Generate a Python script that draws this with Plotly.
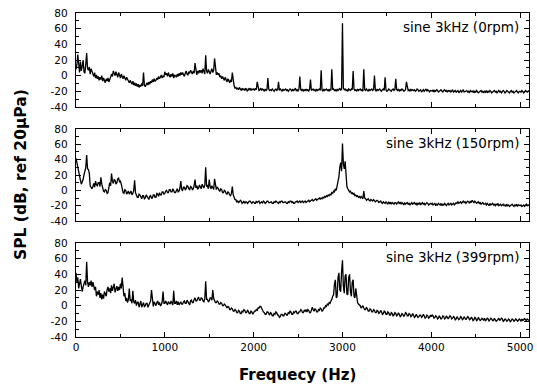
import plotly.graph_objects as go

# ---------------- data ----------------
FREQ_STEP_HZ = 10  # spacing of the hand-read spectral samples

# SPL (dB re 20 uPa), one value every 10 Hz from 0 Hz; each row covers 200 Hz
spl_0rpm = [
    8, 14, 27, 10, 4, 18, 6, 12, 20, 5, 3, 15, 29, 9, 7, 11, 2, 9, 6, 1,                         # 0
    -1, 4, -3, 1, -4, -1, -6, -2, -5, 0, -7, -3, -6, -9, -4, -7, -3, -8, -5, -2,                 # 200
    2, -1, 6, 3, 0, 5, 2, -2, 4, 1, -3, 2, -1, -4, 0, -3, -6, -2, -5, -8,                        # 400
    -9, -6, -8, -11, -7, -12, -9, -13, -10, -14, -11, -15, -12, -14, -10, -13, 4, -12, -14, -11, # 600
    -9, -12, -8, -11, -7, -9, -5, -8, -4, -7, -6, -3, -5, -1, -4, -2, 1, -3, 0, -2,              # 800
    5, 1, 3, -1, 4, 0, -2, 2, -1, 3, -3, 1, 0, -2, 2, -1, 3, 0, 4, 1,                            # 1000
    4, 0, -1, 3, 6, 2, 1, 5, 3, 7, 4, 2, 6, 3, 16, 5, 1, 6, 3, 7,                                # 1200
    4, 7, 3, 9, 5, 2, 26, 6, 3, 8, 5, 2, 6, 9, 4, 7, 22, 5, 1, 4,                                # 1400
    1, 3, -2, 0, -4, -1, -3, -6, -2, -5, -8, -4, -6, -9, -5, -8, 4, -7, -13, -16,                # 1600
    -15, -17, -16, -18, -15, -17, -19, -16, -18, -17, -19, -16, -18, -20, -17, -18, -16, -19, -17, -18,  # 1800
    -17, -19, -16, -18, -8, -17, -19, -18, -16, -19, -17, -18, -20, -17, -19, -18, -3, -17, -19, -18,    # 2000
    -19, -17, -18, -20, -18, -17, -19, -18, -8, -19, -17, -18, -20, -17, -19, -18, -17, -19, -18, -20,   # 2200
    -19, -17, -18, -20, -17, -19, -18, -16, -19, -18, -20, -17, -1, -18, -19, -17, -20, -18, -19, -17,   # 2400
    -19, -18, -20, -17, -5, -19, -18, -17, -19, -18, -20, -17, -19, -18, -17, -19, 7, -18, -20, -17,     # 2600
    -19, -18, -17, -19, -18, -20, -17, -19, 8, -18, -17, -19, -18, -20, -17, -19, -18, -16, -19, -17,    # 2800
    67, -16, -18, -17, -19, -18, -20, -17, -18, -19, -17, -18, 6, -17, -19, -18, -20, -17, -19, -18,     # 3000
    -17, -19, -18, -20, 8, -18, -19, -17, -18, -20, -17, -19, -18, -17, -19, -18, 0, -18, -20, -17,      # 3200
    -19, -18, -17, -19, -20, -18, -17, -19, -2, -18, -20, -19, -17, -18, -19, -20, -18, -17, -19, -18,   # 3400
    -4, -18, -19, -17, -20, -18, -19, -17, -18, -20, -19, -18, -8, -17, -19, -18, -20, -17, -19, -18,    # 3600
    -19, -18, -20, -19, -17, -18, -20, -19, -18, -21, -19, -18, -20, -19, -17, -20, -18, -19, -21, -19,  # 3800
    -19, -20, -18, -21, -19, -20, -18, -19, -21, -20, -19, -18, -20, -21, -19, -18, -20, -19, -21, -19,  # 4000
    -20, -19, -21, -20, -18, -21, -20, -19, -21, -20, -19, -22, -20, -19, -21, -20, -18, -21, -20, -19,  # 4200
    -19, -21, -20, -22, -19, -20, -21, -19, -22, -20, -21, -19, -20, -22, -21, -20, -19, -21, -20, -22,  # 4400
    -20, -21, -19, -22, -20, -21, -19, -20, -22, -21, -20, -19, -21, -20, -22, -20, -19, -21, -20, -22,  # 4600
    -21, -19, -20, -22, -21, -19, -20, -21, -22, -20, -19, -21, -20, -22, -21, -20, -19, -21, -22, -20,  # 4800
    -20, -21, -19, -20, -22, -21, -19, -20, -21, -20, -19,                                                # 5000
]

spl_150rpm = [
    42, 35, 30, 24, 20, 13, 8, 11, 14, 20, 26, 30, 46, 28, 27, 22, 6, 3, 2, 5,                   # 0
    9, 4, 12, 7, 6, 10, 10, 5, 17, 8, 2, -1, -2, 1, 0, -4, -3, 2, 10, 6,                         # 200
    22, 12, 9, 14, 13, 8, 10, 15, 16, 11, 12, 8, -1, -3, -4, 1, 0, -5, -3, -1,                   # 400
    -5, -2, -1, -6, -4, 0, 13, -3, -6, -9, -9, -5, -6, -10, -11, -7, -7, -11, -10, -6,           # 600
    -8, -11, -12, -8, -7, -10, -10, -6, -6, -9, -9, -4, -5, -8, -3, -6, -6, -2, -2, -5,          # 800
    -4, -1, 0, -3, -3, 1, 1, -2, -2, 2, 0, -3, -3, 1, 2, -2, -1, 3, 12, 1,                       # 1000
    0, 4, 4, 1, 2, 6, 5, 2, 1, 5, 4, 1, 2, 6, 14, 3, 6, 2, 3, 7,                                 # 1200
    5, 2, 8, 4, 3, 7, 30, 5, 6, 2, 14, 5, 2, 6, 4, 1, 15, 5, 1, 4,                               # 1400
    3, 0, -1, 2, 1, -3, -3, 0, -1, -4, -5, -2, -3, -6, -7, -4, 5, -6, -9, -12,                   # 1600
    -12, -15, -14, -16, -15, -13, -14, -17, -16, -14, -17, -15, -15, -17, -16, -14, -14, -16, -17, -15,  # 1800
    -15, -17, -17, -14, -16, -15, -14, -17, -16, -15, -17, -14, -15, -17, -16, -14, -14, -16, -16, -15,  # 2000
    -15, -17, -17, -15, -16, -14, -15, -17, -17, -15, -16, -14, -14, -16, -16, -15, -15, -17, -17, -15,  # 2200
    -16, -14, -14, -16, -15, -17, -17, -15, -15, -14, -16, -15, -14, -16, -15, -14, -16, -15, -14, -16,  # 2400
    -15, -14, -13, -15, -14, -13, -12, -14, -13, -12, -11, -13, -12, -11, -10, -12, -10, -11, -9, -10,   # 2600
    -8, -9, -7, -8, -6, -7, -5, -6, -3, -4, -1, -2, 2, 0, 5, 10, 18, 30, 36, 25,                 # 2800
    61, 35, 28, 38, 18, 5, 2, 0, -2, -1, -4, -3, -5, -4, -7, -6, -8, -7, -9, -8,                 # 3000
    -10, -8, -9, -11, -1, -10, -11, -13, -12, -11, -13, -14, -12, -13, -14, -12, -13, -15, -14, -13,     # 3200
    -14, -16, -15, -14, -16, -17, -15, -16, -17, -15, -16, -18, -15, -17, -16, -18, -16, -17, -18, -16,  # 3400
    -16, -18, -17, -15, -17, -16, -18, -16, -17, -19, -16, -18, -17, -16, -18, -17, -19, -17, -16, -18,  # 3600
    -17, -16, -18, -17, -19, -17, -18, -16, -19, -17, -16, -18, -17, -19, -18, -16, -17, -19, -18, -17,  # 3800
    -18, -17, -19, -18, -17, -20, -18, -19, -17, -18, -19, -17, -20, -18, -19, -17, -18, -20, -18, -17,  # 4000
    -19, -18, -17, -19, -18, -17, -19, -18, -16, -17, -15, -17, -16, -15, -17, -16, -14, -16, -15, -17,  # 4200
    -16, -14, -15, -17, -14, -16, -13, -15, -16, -14, -15, -17, -16, -15, -17, -16, -18, -17, -16, -18,  # 4400
    -18, -17, -19, -17, -18, -20, -17, -19, -18, -17, -19, -18, -20, -18, -19, -17, -20, -19, -18, -20,  # 4600
    -19, -18, -20, -19, -21, -18, -20, -19, -21, -20, -19, -18, -20, -21, -19, -20, -18, -21, -19, -20,  # 4800
    -20, -19, -21, -20, -19, -21, -20, -18, -20, -19, -20,                                                # 5000
]

spl_399rpm = [
    42, 30, 36, 22, 28, 34, 25, 18, 24, 28, 32, 26, 56, 30, 24, 30, 26, 32, 24, 30,              # 0
    26, 20, 24, 12, 18, 14, 20, 10, 16, 8, 14, 9, 18, 14, 12, 20, 24, 18, 22, 16,                # 200
    26, 19, 23, 28, 17, 22, 25, 19, 24, 20, 28, 22, 36, 24, 12, 16, 6, 10, 4, 8,                 # 400
    22, 6, 8, 3, 19, 5, 3, 7, 0, 4, 5, -2, 2, 6, -2, 3, 4, -1, 0, 3,                             # 600
    3, -2, 1, 5, 6, 20, 2, -1, 5, 2, 0, 4, 6, 1, 4, 0, 1, 5, 18, 3,                              # 800
    3, 6, 2, 1, 5, 3, 2, 6, 4, 1, 19, 3, 3, 6, 1, 5, 1, 4, 5, 2,                                 # 1000
    2, 5, 6, 3, 3, 7, 5, 2, 1, 6, 7, 4, 4, 8, 10, 6, 6, 9, 11, 7,                                # 1200
    7, 10, 9, 6, 5, 9, 31, 8, 8, 5, 6, 10, 10, 7, 20, 9, 7, 4, 4, 6,                             # 1400
    5, 2, 2, 4, 3, 0, 0, 2, 1, -2, -3, -1, -2, -5, -5, -3, -4, -7, -7, -5,                       # 1600
    -6, -9, -9, -6, -7, -10, -10, -7, -8, -5, -6, -9, -9, -6, -7, -10, -10, -7, -8, -11,         # 1800
    -9, -7, -7, -5, -6, -3, -3, -1, -1, -4, -5, -8, -9, -11, -11, -8, -8, -11, -12, -9,          # 2000
    -10, -13, -13, -10, -11, -8, -9, -12, -12, -15, -14, -11, -11, -13, -13, -10, -10, -12, -12, -9,     # 2200
    -10, -7, -8, -11, -11, -8, -9, -7, -7, -10, -10, -8, -8, -5, -6, -9, -9, -6, -7, -5,         # 2400
    -8, -5, -6, -9, -9, -6, -2, -5, -7, -4, -5, -8, -8, -5, -6, -3, -4, -7, -6, -3,              # 2600
    -3, 0, -1, 2, 1, 4, 3, 6, 8, 12, 14, 28, 33, 10, 12, 36, 42, 20, 18, 44,                     # 2800
    58, 25, 16, 38, 40, 15, 14, 36, 40, 18, 12, 30, 33, 12, 10, 22, 8, 4, 2, 1,                  # 3000
    0, -3, -2, 0, -3, -5, -5, -2, -4, -7, -7, -4, -5, -8, -8, -5, -6, -9, -9, -6,                # 3200
    -7, -10, -9, -6, -8, -11, -10, -7, -8, -11, -11, -8, -9, -12, -12, -9, -10, -13, -12, -9,    # 3400
    -10, -13, -12, -9, -11, -14, -13, -10, -11, -14, -12, -9, -10, -13, -13, -10, -11, -14, -13, -10,    # 3600
    -12, -15, -14, -11, -13, -15, -14, -12, -12, -15, -14, -11, -13, -16, -15, -12, -13, -16, -15, -12,  # 3800
    -14, -12, -13, -16, -15, -13, -14, -17, -16, -13, -15, -17, -16, -13, -14, -17, -16, -13, -15, -17,  # 4000
    -15, -13, -14, -17, -16, -14, -15, -18, -17, -14, -16, -18, -17, -14, -15, -18, -17, -14, -16, -18,  # 4200
    -16, -14, -15, -18, -17, -15, -16, -19, -18, -15, -16, -19, -18, -15, -17, -19, -18, -16, -17, -19,  # 4400
    -16, -19, -18, -16, -17, -20, -18, -16, -17, -19, -19, -16, -18, -20, -19, -17, -16, -19, -18, -16,  # 4600
    -17, -20, -19, -17, -18, -20, -19, -17, -18, -21, -19, -17, -18, -20, -19, -17, -18, -20, -19, -17,  # 4800
    -18, -20, -17, -19, -18, -16, -18, -19, -17, -18, -19,                                                # 5000
]

panel_labels = ["sine 3kHz (0rpm)", "sine 3kHz (150rpm)", "sine 3kHz (399rpm)"]
x_tick_vals = [0, 1000, 2000, 3000, 4000, 5000]
x_tick_text = ["0", "1000", "2000", "3000", "4000", "5000"]
y_tick_vals = [-40, -20, 0, 20, 40, 60, 80]
y_tick_text = ["-40", "-20", "0", "20", "40", "60", "80"]
x_title = "Frequecy (Hz)"
y_title = "SPL (dB, ref 20μPa)"

# ---------------- figure ----------------
series = [spl_0rpm, spl_150rpm, spl_399rpm]
domains = [[0.7099, 1.0], [0.358, 0.642], [0.0, 0.2901]]

tick_font = dict(family="DejaVu Sans", size=10.5, color="black")
fig = go.Figure()
layout_axes = {}
annotations = []
for i, vals in enumerate(series):
    sfx = "" if i == 0 else str(i + 1)
    freq = [FREQ_STEP_HZ * k for k in range(len(vals))]
    fig.add_trace(go.Scatter(
        x=freq, y=vals, mode="lines",
        line=dict(color="black", width=1.3),
        xaxis="x" + sfx, yaxis="y" + sfx,
        showlegend=False, hoverinfo="skip",
    ))
    layout_axes["xaxis" + sfx] = dict(
        domain=[0, 1], anchor="y" + sfx, range=[0, 5100],
        showline=True, linecolor="black", linewidth=1.4, mirror="ticks",
        ticks="inside", ticklen=5, tickwidth=1, tickcolor="black",
        tickmode="array", tickvals=x_tick_vals, ticktext=x_tick_text,
        showticklabels=(i == 2), tickfont=tick_font,
        minor=dict(ticks="inside", ticklen=3, tickwidth=1, tickcolor="black",
                   dtick=500, tick0=0),
        showgrid=False, zeroline=False, automargin=False,
    )
    layout_axes["yaxis" + sfx] = dict(
        domain=domains[i], anchor="x" + sfx, range=[-40, 80],
        showline=True, linecolor="black", linewidth=1.4, mirror="ticks",
        ticks="inside", ticklen=5, tickwidth=1, tickcolor="black",
        tickmode="array", tickvals=y_tick_vals, ticktext=y_tick_text,
        tickfont=tick_font, ticklabelstandoff=5,
        minor=dict(ticks="inside", ticklen=3, tickwidth=1, tickcolor="black",
                   dtick=10, tick0=0),
        showgrid=False, zeroline=False, automargin=False,
    )
    annotations.append(dict(
        text=panel_labels[i], xref="paper", yref="paper",
        x=1, y=domains[i][1], xanchor="right", yanchor="middle",
        xshift=-8, yshift=-14, showarrow=False,
        font=dict(family="DejaVu Sans", size=13.5, color="black"),
    ))

annotations.append(dict(
    text=y_title, xref="paper", yref="paper", x=0, y=0.5,
    xshift=-55, xanchor="center", yanchor="middle", textangle=-90,
    showarrow=False, font=dict(family="DejaVu Sans", size=15.5, color="black", weight="bold"),
))
annotations.append(dict(
    text=x_title, xref="paper", yref="paper", x=0.488, y=0,
    yshift=-38, xanchor="center", yanchor="middle",
    showarrow=False, font=dict(family="DejaVu Sans", size=15, color="black", weight="bold"),
))

fig.update_layout(
    width=537, height=385,
    margin=dict(l=76, r=8, t=13, b=48),
    paper_bgcolor="white", plot_bgcolor="white",
    annotations=annotations,
    **layout_axes,
)

fig.write_html("out.html")
